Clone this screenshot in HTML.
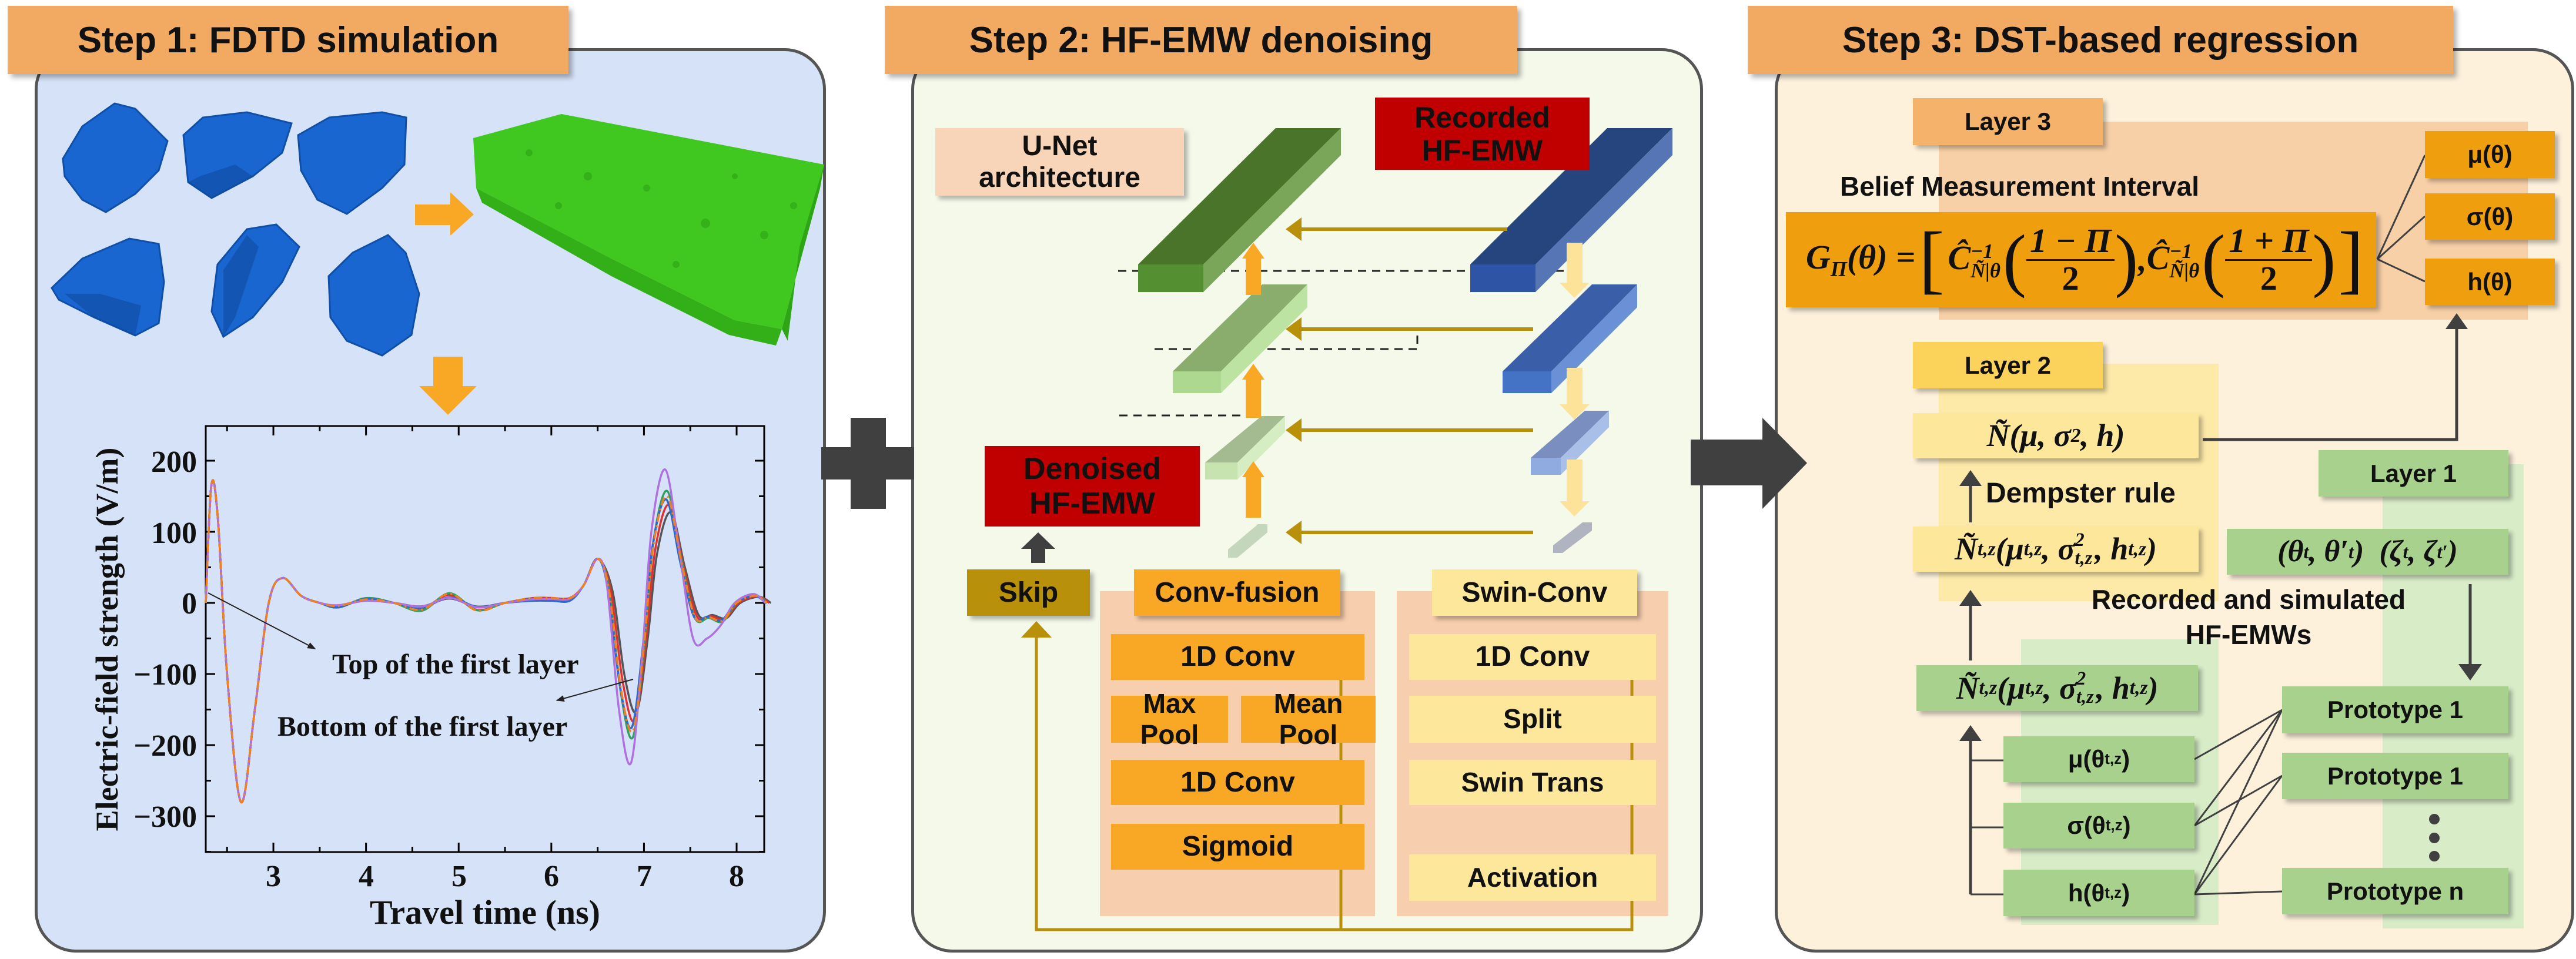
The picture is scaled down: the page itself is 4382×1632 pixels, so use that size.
<!DOCTYPE html>
<html><head><meta charset="utf-8">
<style>
*{margin:0;padding:0;box-sizing:border-box}
body{width:4382px;height:1632px;background:#fff;position:relative;overflow:hidden;font-family:"Liberation Sans",sans-serif;font-weight:bold;color:#111}
.a{position:absolute}
.panel{position:absolute;border:5px solid #555;border-radius:70px}
.tab{position:absolute;background:#f2a962;font-size:62px;display:flex;align-items:center;justify-content:center;box-shadow:6px 6px 8px rgba(0,0,0,.3)}
.b{position:absolute;display:flex;align-items:center;justify-content:center;text-align:center;line-height:1.12;box-shadow:6px 6px 7px rgba(0,0,0,.28)}
.ns{box-shadow:none}
.m{font-family:"Liberation Serif",serif;font-style:italic;font-weight:bold}
sub,sup{font-size:62%}
.st{display:inline-flex;flex-direction:column;vertical-align:middle;font-size:60%;line-height:0.95;text-align:left;margin-right:4px}
</style></head><body>

<div class="panel" style="left:59px;top:82px;width:1346px;height:1539px;background:#d6e2f7"></div>
<div class="panel" style="left:1550px;top:82px;width:1347px;height:1539px;background:#f5f9ea"></div>
<div class="panel" style="left:3019px;top:82px;width:1360px;height:1539px;background:#fdf1dc"></div>

<div class="tab" style="left:13px;top:10px;width:954px;height:116px">Step 1: FDTD simulation</div>
<div class="tab" style="left:1505px;top:10px;width:1076px;height:116px">Step 2: HF-EMW denoising</div>
<div class="tab" style="left:2973px;top:10px;width:1200px;height:116px">Step 3: DST-based regression</div>

<div class="a" style="left:1871px;top:1006px;width:468px;height:553px;background:#f8cfae"></div>
<div class="a" style="left:2376px;top:1006px;width:462px;height:553px;background:#f8cfae"></div>
<div class="a" style="left:3298px;top:207px;width:1002px;height:337px;background:#f8d0a8"></div>
<div class="a" style="left:3298px;top:619px;width:476px;height:404px;background:#fde9a8"></div>
<div class="a" style="left:3438px;top:1088px;width:336px;height:486px;background:#d8ecc8"></div>
<div class="a" style="left:4053px;top:790px;width:240px;height:790px;background:#d8ecc8"></div>

<svg class="a" style="left:0;top:0" width="4382" height="1632" viewBox="0 0 4382 1632">
<defs>
<marker id="kh" viewBox="0 0 10 10" refX="9" refY="5" markerWidth="9" markerHeight="7" orient="auto"><path d="M0,1L10,5L0,9z" fill="#222"/></marker>
</defs>
<rect x="1447" y="711" width="60" height="155" fill="#404040"/>
<rect x="1397" y="761" width="158" height="55" fill="#404040"/>
<rect x="2876" y="748" width="124" height="78" fill="#404040"/>
<path d="M2998,711L3074,788L2998,866z" fill="#404040"/>

<g fill="#1a66d0" stroke="#0f4fa8" stroke-width="3">
<path d="M107,270L140,215L195,176L230,185L285,240L270,290L230,330L180,361L140,340L110,300z"/>
<path d="M312,230L345,200L420,191L496,210L480,260L430,300L360,337L320,310z"/>
<path d="M507,230L560,200L650,191L691,200L688,280L650,320L590,364L540,340L512,290z"/>
<path d="M88,490L140,440L220,406L270,415L279,480L270,550L230,571L160,540L100,510z"/>
<path d="M370,450L420,390L470,382L509,420L480,480L430,540L380,573L360,530z"/>
<path d="M559,470L600,430L660,400L690,430L713,500L700,570L650,605L590,580L562,540z"/>
</g>
<g fill="#0d4aa0" opacity=".6">
<path d="M320,310L360,337L430,300L400,280L340,300z"/>
<path d="M110,500L160,540L230,571L240,520L170,500z"/>
<path d="M380,460L420,400L440,420L400,540L380,573z"/>
</g>
<rect x="706" y="348" width="60" height="35" fill="#f8a824"/>
<path d="M766,327L806,365L766,401z" fill="#f8a824"/>
<rect x="737" y="607" width="50" height="50" fill="#f8a824"/>
<path d="M713,657L811,657L762,706z" fill="#f8a824"/>
<path d="M805,235L955,194L1402,280L1395,320L1330,560L1250,545L1040,440L810,320z" fill="#40c820"/>
<path d="M1330,560L1395,320L1402,280L1360,420L1340,580z" fill="#2ea515"/>
<path d="M810,320L1040,440L1250,545L1330,560L1320,588L1240,570L1040,470L820,345z" fill="#33b018"/>
<g fill="#2a9a12" opacity=".5">
<circle cx="900" cy="260" r="6"/><circle cx="1000" cy="300" r="7"/><circle cx="1100" cy="320" r="6"/><circle cx="1200" cy="380" r="8"/><circle cx="1300" cy="400" r="7"/><circle cx="1150" cy="450" r="6"/><circle cx="950" cy="350" r="6"/><circle cx="1250" cy="300" r="5"/><circle cx="1350" cy="350" r="6"/>
</g>

<rect x="350" y="725" width="950" height="725" fill="none" stroke="#000" stroke-width="3"/>
<g id="ticks" stroke="#000" stroke-width="3"></g>
<g id="curves" fill="none" stroke-width="3.5"></g>
<g font-family="Liberation Serif,serif" font-weight="bold" font-size="52" fill="#111">
<text x="335" y="803" text-anchor="end">200</text>
<text x="335" y="924" text-anchor="end">100</text>
<text x="335" y="1044" text-anchor="end">0</text>
<text x="335" y="1165" text-anchor="end">−100</text>
<text x="335" y="1286" text-anchor="end">−200</text>
<text x="335" y="1407" text-anchor="end">−300</text>
<text x="465" y="1508" text-anchor="middle">3</text>
<text x="623" y="1508" text-anchor="middle">4</text>
<text x="781" y="1508" text-anchor="middle">5</text>
<text x="938" y="1508" text-anchor="middle">6</text>
<text x="1096" y="1508" text-anchor="middle">7</text>
<text x="1253" y="1508" text-anchor="middle">8</text>
<text x="825" y="1572" text-anchor="middle" font-size="58">Travel time (ns)</text>
<text x="200" y="1088" text-anchor="middle" font-size="54" transform="rotate(-90 200 1088)">Electric-field strength (V/m)</text>
<text x="565" y="1146" font-size="48">Top of the first layer</text>
<text x="472" y="1252" font-size="48">Bottom of the first layer</text>
</g>
<line x1="354" y1="1009" x2="536" y2="1104" stroke="#222" stroke-width="2" marker-end="url(#kh)"/>
<line x1="1077" y1="1156" x2="947" y2="1192" stroke="#222" stroke-width="2" marker-end="url(#kh)"/>

<g stroke="#222" stroke-width="3" stroke-dasharray="14,10" fill="none">
<line x1="1902" y1="461" x2="2663" y2="461"/>
<path d="M1964,594L2411,594L2411,562"/>
<line x1="1904" y1="707" x2="2114" y2="707"/>
</g>
<path d="M1936,450L2170,218L2281,218L2047,450z" fill="#4a7429"/>
<path d="M2047,450L2281,218L2281,264L2047,497z" fill="#7aa65a"/>
<rect x="1936" y="450" width="111" height="47" fill="#548f32"/>
<path d="M1995,632L2147,484L2224,484L2077,632z" fill="#8aad6e"/>
<path d="M2077,632L2224,484L2224,523L2077,669z" fill="#bde3a2"/>
<rect x="1995" y="632" width="82" height="37" fill="#acd890"/>
<path d="M2050,787L2146,708L2186,708L2105,787z" fill="#a4ba90"/>
<path d="M2105,787L2186,708L2186,735L2105,816z" fill="#d6edc4"/>
<rect x="2050" y="787" width="55" height="29" fill="#c7e4b0"/>
<path d="M2089,935L2140,892L2156,892L2156,906L2105,949L2089,949z" fill="#c4d6bc"/>
<path d="M2501,450L2734,218L2845,218L2612,450z" fill="#26457f"/>
<path d="M2612,450L2845,218L2845,264L2612,497z" fill="#5675b5"/>
<rect x="2501" y="450" width="111" height="47" fill="#2e55a5"/>
<path d="M2556,632L2708,484L2785,484L2639,632z" fill="#3a5ea8"/>
<path d="M2639,632L2785,484L2785,523L2639,669z" fill="#6a90d6"/>
<rect x="2556" y="632" width="83" height="37" fill="#4472c4"/>
<path d="M2604,779L2696,699L2737,699L2655,779z" fill="#7a8fc0"/>
<path d="M2655,779L2737,699L2737,727L2655,808z" fill="#a9bfe8"/>
<rect x="2604" y="779" width="51" height="29" fill="#8fabe0"/>
<path d="M2642,928L2692,889L2708,889L2708,903L2658,941L2642,941z" fill="#b0b4c0"/>
<g stroke="#b8900a" stroke-width="6">
<line x1="2564" y1="390" x2="2210" y2="390"/>
<line x1="2608" y1="560" x2="2210" y2="560"/>
<line x1="2608" y1="732" x2="2210" y2="732"/>
<line x1="2608" y1="906" x2="2210" y2="906"/>
</g>
<g fill="#b8900a">
<path d="M2187,390L2214,370L2214,410z"/><path d="M2187,560L2214,540L2214,580z"/>
<path d="M2187,732L2214,712L2214,752z"/><path d="M2187,906L2214,886L2214,926z"/>
</g>
<g fill="#f8a824">
<path d="M2113,440L2132,413L2151,440z"/><rect x="2119" y="440" width="26" height="62"/>
<path d="M2113,646L2132,619L2151,646z"/><rect x="2119" y="646" width="26" height="65"/>
<path d="M2113,812L2132,785L2151,812z"/><rect x="2119" y="812" width="26" height="69"/>
</g>
<g fill="#fde39a">
<rect x="2665" y="413" width="27" height="68"/><path d="M2653,481L2704,481L2678,507z"/>
<rect x="2665" y="626" width="27" height="62"/><path d="M2653,688L2704,688L2678,714z"/>
<rect x="2665" y="782" width="27" height="71"/><path d="M2653,853L2704,853L2678,879z"/>
</g>
<path d="M1737,934L1766,906L1795,934L1778,934L1778,958L1754,958L1754,934z" fill="#404040"/>
<g stroke="#b8900a" stroke-width="5" fill="none">
<path d="M2776,1157L2776,1582L1763,1582L1763,1080"/>
<path d="M2281,1157L2281,1582"/>
</g>
<path d="M1737,1085L1763,1057L1789,1085z" fill="#b8900a"/>

<g stroke="#404040" stroke-width="3" fill="none">
<line x1="4044" y1="441" x2="4125" y2="264"/>
<line x1="4044" y1="441" x2="4125" y2="368"/>
<line x1="4044" y1="441" x2="4125" y2="479"/>
<path d="M3747,748L4179,748L4179,560" stroke-width="5"/>
<line x1="3352" y1="889" x2="3352" y2="825" stroke-width="5"/>
<line x1="3352" y1="1124" x2="3352" y2="1030" stroke-width="5"/>
<line x1="4202" y1="994" x2="4202" y2="1130" stroke-width="5"/>
<path d="M3352,1522L3352,1260" stroke-width="5"/>
<path d="M3352,1294L3408,1294M3352,1408L3408,1408M3352,1522L3408,1522"/>
<line x1="3733" y1="1292" x2="3882" y2="1208"/>
<line x1="3733" y1="1405" x2="3882" y2="1208"/>
<line x1="3733" y1="1405" x2="3882" y2="1320"/>
<line x1="3733" y1="1522" x2="3882" y2="1208"/>
<line x1="3733" y1="1522" x2="3882" y2="1320"/>
<line x1="3733" y1="1522" x2="3882" y2="1517"/>
</g>
<g fill="#404040">
<path d="M4160,560L4179,533L4198,560z"/>
<path d="M3333,827L3352,800L3371,827z"/>
<path d="M3333,1031L3352,1004L3371,1031z"/>
<path d="M3333,1261L3352,1234L3371,1261z"/>
<path d="M4182,1130L4202,1158L4222,1130z"/>
<circle cx="4141" cy="1394" r="9"/><circle cx="4141" cy="1426" r="9"/><circle cx="4141" cy="1457" r="9"/>
</g>
</svg>

<div class="b" style="left:1591px;top:218px;width:423px;height:115px;background:#f8d5b8;font-size:48px">U-Net<br>architecture</div>
<div class="b ns" style="left:2339px;top:166px;width:365px;height:123px;background:#c00000;font-size:50px">Recorded<br>HF-EMW</div>
<div class="b ns" style="left:1675px;top:759px;width:366px;height:137px;background:#c00000;font-size:52px">Denoised<br>HF-EMW</div>
<div class="b" style="left:1645px;top:969px;width:209px;height:79px;background:#b8900a;font-size:48px">Skip</div>
<div class="b" style="left:1929px;top:969px;width:351px;height:79px;background:#f8a824;font-size:48px">Conv-fusion</div>
<div class="b" style="left:2436px;top:969px;width:349px;height:79px;background:#fde79a;font-size:48px">Swin-Conv</div>
<div class="b ns" style="left:1890px;top:1079px;width:431px;height:78px;background:#f8a824;font-size:48px">1D Conv</div>
<div class="b ns" style="left:1890px;top:1184px;width:199px;height:80px;background:#f8a824;font-size:46px;line-height:1.15">Max<br>Pool</div>
<div class="b ns" style="left:2111px;top:1184px;width:229px;height:80px;background:#f8a824;font-size:46px;line-height:1.15">Mean<br>Pool</div>
<div class="b ns" style="left:1890px;top:1293px;width:431px;height:77px;background:#f8a824;font-size:48px">1D Conv</div>
<div class="b ns" style="left:1890px;top:1402px;width:431px;height:78px;background:#f8a824;font-size:48px">Sigmoid</div>
<div class="b ns" style="left:2397px;top:1079px;width:420px;height:78px;background:#fde79a;font-size:48px">1D Conv</div>
<div class="b ns" style="left:2397px;top:1184px;width:420px;height:80px;background:#fde79a;font-size:46px">Split</div>
<div class="b ns" style="left:2397px;top:1293px;width:420px;height:77px;background:#fde79a;font-size:46px">Swin Trans</div>
<div class="b ns" style="left:2397px;top:1454px;width:420px;height:79px;background:#fde79a;font-size:46px">Activation</div>

<div class="b" style="left:3254px;top:167px;width:323px;height:80px;background:#f5b26b;font-size:42px">Layer 3</div>
<div class="a" style="left:3130px;top:290px;font-size:46px;white-space:nowrap">Belief Measurement Interval</div>
<div class="b m" style="left:3038px;top:361px;width:1004px;height:162px;background:#ef9f0e;font-size:58px;justify-content:flex-start;padding-left:34px;white-space:nowrap">
<span>G<sub>Π</sub>(θ) = </span>
<span style="font-size:130px;font-weight:normal;font-style:normal;margin:0 6px">[</span>
<span>Ĉ<span class="st"><span>−1</span><span>Ñ|θ</span></span></span>
<span style="font-size:120px;font-weight:normal;font-style:normal">(</span>
<span style="display:inline-flex;flex-direction:column;align-items:center;line-height:1.05"><span style="border-bottom:3px solid #111;padding:0 6px">1 − Π</span><span style="font-style:normal">2</span></span>
<span style="font-size:120px;font-weight:normal;font-style:normal">)</span>,
<span>Ĉ<span class="st"><span>−1</span><span>Ñ|θ</span></span></span>
<span style="font-size:120px;font-weight:normal;font-style:normal">(</span>
<span style="display:inline-flex;flex-direction:column;align-items:center;line-height:1.05"><span style="border-bottom:3px solid #111;padding:0 6px">1 + Π</span><span style="font-style:normal">2</span></span>
<span style="font-size:120px;font-weight:normal;font-style:normal">)</span>
<span style="font-size:130px;font-weight:normal;font-style:normal;margin-left:4px">]</span>
</div>
<div class="b" style="left:4125px;top:223px;width:221px;height:80px;background:#ef9f0e;font-size:42px">μ(θ)</div>
<div class="b" style="left:4125px;top:329px;width:221px;height:79px;background:#ef9f0e;font-size:42px">σ(θ)</div>
<div class="b" style="left:4125px;top:440px;width:221px;height:79px;background:#ef9f0e;font-size:42px">h(θ)</div>

<div class="b" style="left:3254px;top:582px;width:323px;height:79px;background:#fbd25a;font-size:42px">Layer 2</div>
<div class="b m" style="left:3254px;top:703px;width:486px;height:77px;background:#fde79a;font-size:54px">Ñ(μ, σ<sup>2</sup>, h)</div>
<div class="a" style="left:3378px;top:812px;font-size:48px;white-space:nowrap">Dempster rule</div>
<div class="b m" style="left:3254px;top:896px;width:486px;height:77px;background:#fde79a;font-size:54px">Ñ<sub>t,z</sub>(μ<sub>t,z</sub>, σ<span class="st"><span>2</span><span>t,z</span></span>, h<sub>t,z</sub>)</div>

<div class="b" style="left:3944px;top:766px;width:323px;height:79px;background:#a9d18e;font-size:42px">Layer 1</div>
<div class="b m" style="left:3788px;top:900px;width:479px;height:78px;background:#a9d18e;font-size:52px">(θ<sub>t</sub>, θ′<sub>t</sub>) &nbsp;(ζ<sub>t</sub>, ζ<sub>t′</sub>)</div>
<div class="a" style="left:3525px;top:990px;width:600px;text-align:center;font-size:46px;line-height:60px">Recorded and simulated<br>HF-EMWs</div>
<div class="b m" style="left:3260px;top:1132px;width:479px;height:78px;background:#a9d18e;font-size:54px">Ñ<sub>t,z</sub>(μ<sub>t,z</sub>, σ<span class="st"><span>2</span><span>t,z</span></span>, h<sub>t,z</sub>)</div>
<div class="b" style="left:3408px;top:1253px;width:325px;height:78px;background:#a9d18e;font-size:42px">μ(θ<sub>t,z</sub>)</div>
<div class="b" style="left:3408px;top:1366px;width:325px;height:78px;background:#a9d18e;font-size:42px">σ(θ<sub>t,z</sub>)</div>
<div class="b" style="left:3408px;top:1480px;width:325px;height:79px;background:#a9d18e;font-size:42px">h(θ<sub>t,z</sub>)</div>
<div class="b" style="left:3882px;top:1168px;width:385px;height:80px;background:#a9d18e;font-size:42px">Prototype 1</div>
<div class="b" style="left:3882px;top:1281px;width:385px;height:79px;background:#a9d18e;font-size:42px">Prototype 1</div>
<div class="b" style="left:3882px;top:1477px;width:385px;height:79px;background:#a9d18e;font-size:42px">Prototype n</div>

<script>
(function(){
var NS="http://www.w3.org/2000/svg";
function X(t){return 350+(t-2.27)*157.6}
function Y(v){return 1026-v*1.21}
var tk=document.getElementById("ticks"),d="";
for(var t=2.5;t<=8.3;t+=0.5){var x=X(t),L=(Math.abs(t-Math.round(t))<0.01)?16:9;d+="M"+x+",1450v-"+L+"M"+x+",725v"+L;}
for(var v=-350;v<=250;v+=50){var y=Y(v);if(y<725||y>1450)continue;var L=(v%100==0)?16:9;d+="M350,"+y+"h"+L+"M1300,"+y+"h-"+L;}
var p=document.createElementNS(NS,"path");p.setAttribute("d",d);tk.appendChild(p);
var base=[[2.27,0],[2.33,165],[2.40,120],[2.50,-100],[2.65,-280],[2.80,-150],[2.95,0],[3.1,35],[3.3,10],[3.5,0],[3.7,-5],[4.0,5],[4.3,0],[4.6,-8],[4.9,10],[5.2,-8],[5.5,0],[5.8,5],[6.0,5],[6.2,5],[6.35,25],[6.5,62],[6.62,20],[6.75,-120],[6.88,-180],[7.0,-60],[7.1,80],[7.25,150],[7.4,60],[7.55,-20],[7.7,-20],[7.85,-25],[8.0,0],[8.2,10],[8.33,0]];
var cs=[["#555",0.85,0.04],["#e03030",0.92,0.02],["#30a060",1.05,0],["#2a6ad0",0.97,-0.01],["#b070e0",1.25,-0.02],["#f08020",1.0,0]];
var g=document.getElementById("curves");
cs.forEach(function(c,i){
 var pts=base.map(function(b){var t=b[0],v=b[1];if(t>6.6){v*=c[1];t+=c[2];}else if(t>3.3&&t<6.3){v*=(1+0.4*Math.sin(i*1.7+t));}
  if(i==4&&t>7.4&&t<7.7)v-=25;return [X(t),Y(v)]});
 var s="M"+pts[0][0]+","+pts[0][1];
 for(var k=0;k<pts.length-1;k++){var p0=pts[k-1]||pts[k],p1=pts[k],p2=pts[k+1],p3=pts[k+2]||p2;
  s+="C"+(p1[0]+(p2[0]-p0[0])/6)+","+(p1[1]+(p2[1]-p0[1])/6)+" "+(p2[0]-(p3[0]-p1[0])/6)+","+(p2[1]-(p3[1]-p1[1])/6)+" "+p2[0]+","+p2[1];}
 var e=document.createElementNS(NS,"path");e.setAttribute("d",s);e.setAttribute("stroke",c[0]);
 if(i==5)e.setAttribute("stroke-dasharray","14,6,3,6");g.appendChild(e);
});
})();
</script>
</body></html>
